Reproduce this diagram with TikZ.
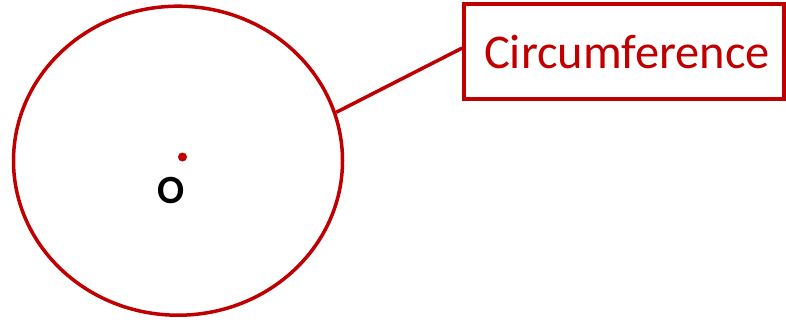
\documentclass[tikz,border=0pt]{standalone}
\usepackage{fontspec}
\setmainfont{Carlito}
\usetikzlibrary{shapes.geometric}
\definecolor{circred}{RGB}{192,0,0}

\begin{document}
\begin{tikzpicture}[x=1pt,y=-1pt,
    rim/.style={draw=circred, line width=3.5pt, ellipse, minimum width=329pt, minimum height=309pt, inner sep=0pt},
    tag/.style={draw=circred, line width=3.5pt, minimum width=320pt, minimum height=95pt, inner sep=0pt, text=circred, font=\fontsize{48.5}{58}\selectfont},
    lnk/.style={draw=circred, line width=3.5pt}
]
\useasboundingbox (0,0) rectangle (786,322);
% circle and centre
\node[rim] (circ) at (178,160.7) {};
\node[circle, fill=circred, inner sep=0pt, minimum size=9pt] (ctr) at (182.5,157) {};
\node[font=\fontsize{40}{48}\selectfont\bfseries] (lblO) at (171,191) {O};

% label
\node[tag] (lbl) at (624,51.5) {\hspace*{6pt}Circumference};
\draw[lnk] (circ.17) -- ([yshift=3.5pt]lbl.west);
\end{tikzpicture}
\end{document}
